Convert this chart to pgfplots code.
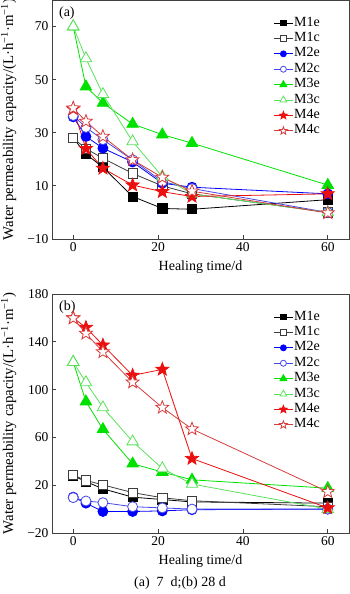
\documentclass[border=0pt]{standalone}
\usepackage{fontspec}
\setmainfont{Liberation Serif}
\usepackage{pgfplots}
\pgfplotsset{compat=1.18}
\definecolor{cA}{RGB}{0,0,0}
\definecolor{cAc}{RGB}{60,60,60}
\definecolor{cB}{RGB}{0,0,255}
\definecolor{cBc}{RGB}{70,70,235}
\definecolor{cC}{RGB}{0,225,0}
\definecolor{cCc}{RGB}{90,225,90}
\definecolor{cD}{RGB}{235,15,15}
\definecolor{cDc}{RGB}{215,60,60}
\pgfdeclareplotmark{pstar}{%
  \pgfpathmoveto{\pgfpointpolar{90}{\pgfplotmarksize}}%
  \pgfpathlineto{\pgfpointpolar{126}{0.42\pgfplotmarksize}}%
  \pgfpathlineto{\pgfpointpolar{162}{\pgfplotmarksize}}%
  \pgfpathlineto{\pgfpointpolar{198}{0.42\pgfplotmarksize}}%
  \pgfpathlineto{\pgfpointpolar{234}{\pgfplotmarksize}}%
  \pgfpathlineto{\pgfpointpolar{270}{0.42\pgfplotmarksize}}%
  \pgfpathlineto{\pgfpointpolar{306}{\pgfplotmarksize}}%
  \pgfpathlineto{\pgfpointpolar{342}{0.42\pgfplotmarksize}}%
  \pgfpathlineto{\pgfpointpolar{18}{\pgfplotmarksize}}%
  \pgfpathlineto{\pgfpointpolar{54}{0.42\pgfplotmarksize}}%
  \pgfpathclose
  \pgfusepathqfillstroke
}
\pgfplotsset{
  myaxis/.style={
    scale only axis, width=297pt, height=239pt,
    xmin=-5, xmax=65, xtick={0,20,40,60},
    axis line style={black!75, line width=0.8pt},
    tick pos=left, tick align=inside, major tick length=4pt,
    tick style={black!75, line width=0.8pt},
    ticklabel style={font=\fontsize{13.5}{15}\selectfont},
    /pgf/number format/assume math mode=true,
    xlabel={Healing time/d},
    ylabel={Water permeability capacity/(L·h\textsuperscript{−1}·m\textsuperscript{−1})},
    every axis y label/.style={at={(axis description cs:-0.146,0.5)},rotate=90,anchor=center,font=\fontsize{14.8}{15}\selectfont},
    every axis x label/.style={at={(axis description cs:0.5,0)},anchor=center,yshift=-28pt,font=\fontsize{14}{15}\selectfont},
    legend style={at={(0.735,0.945)}, anchor=north west, draw=none, fill=none,
      font=\fontsize{14}{15}\selectfont, row sep=0pt,
      nodes={inner sep=0.8pt, text height=10pt, text depth=3.8pt}},
    legend cell align=left,
    legend image code/.code={\draw[mark repeat=2,mark phase=2,every mark/.append style={scale=0.6}] plot coordinates {(0pt,0pt) (9.5pt,0pt) (19pt,0pt)};},
    every axis plot/.append style={line width=0.8pt},
  },
  s1e/.style={color=cA, mark=square*, mark size=4.6pt, mark options={fill=black, solid}},
  s1c/.style={color=cAc, mark=square*, mark size=4.6pt, mark options={fill=white, draw=cAc, solid}},
  s2e/.style={color=cB, mark=*, mark size=5pt, mark options={fill=cB, solid}},
  s2c/.style={color=cBc, mark=*, mark size=5pt, mark options={fill=white, draw=cBc, solid}},
  s3e/.style={color=cC, mark=triangle*, mark size=6.6pt, mark options={fill=cC, solid}},
  s3c/.style={color=cCc, mark=triangle*, mark size=6.6pt, mark options={fill=white, draw=cCc, solid}},
  s4e/.style={color=cD, mark=pstar, mark size=6.8pt, mark options={fill=cD, solid}},
  s4c/.style={color=cDc, mark=pstar, mark size=6.8pt, mark options={fill=white, draw=cDc, solid}},
}
\begin{document}
\begin{tikzpicture}
\useasboundingbox (-52pt,0pt) rectangle (298pt,-594pt);
\begin{axis}[myaxis, at={(0pt,0pt)}, anchor=north west,
  ymin=-10, ymax=80, ytick={-10,10,30,50,70}, yticklabels={−10,10,30,50,70}]
\addplot[s1e] coordinates {(0,28) (3,22) (7,17) (14,6) (21,1.5) (28,1.2) (60,4.8)};
\addplot[s1c] coordinates {(0,28) (3,24) (7,20.4) (14,14.7) (21,10) (28,7) (60,0)};
\addplot[s2e] coordinates {(0,36) (3,28.6) (7,24.2) (14,19) (21,11) (28,9.5) (60,7)};
\addplot[s2c] coordinates {(0,36.5) (3,32) (7,27.4) (14,19.8) (21,11.6) (28,9) (60,0)};
\addplot[s3e] coordinates {(0,70) (3,47.4) (7,41.2) (14,33.3) (21,29.3) (28,26.1) (60,10.3)};
\addplot[s3c] coordinates {(0,70) (3,58) (7,44.5) (14,26.7) (21,13.5) (28,7) (60,0)};
\addplot[s4e] coordinates {(0,39) (3,24) (7,16.6) (14,10.3) (21,7.8) (28,6) (60,7)};
\addplot[s4c] coordinates {(0,39.3) (3,34.3) (7,28.6) (14,19.8) (21,13.2) (28,8) (60,-0.2)};
\legend{M1e,M1c,M2e,M2c,M3e,M3c,M4e,M4c}
\node[anchor=west,font=\fontsize{14}{15}\selectfont] at (rel axis cs:0.012,0.946) {(a)};
\end{axis}
\begin{axis}[myaxis, at={(0pt,-294pt)}, anchor=north west,
  ymin=-20, ymax=180, ytick={-20,20,60,100,140,180}, yticklabels={−20,20,60,100,140,180}]
\addplot[s1e] coordinates {(0,28) (3,23) (7,17) (14,10) (21,8) (28,6) (60,5)};
\addplot[s1c] coordinates {(0,28.5) (3,24) (7,20.3) (14,13.8) (21,9.5) (28,7) (60,2)};
\addplot[s2e] coordinates {(0,10) (3,5) (7,-2) (14,-2) (21,-1.5) (28,-0.5) (60,0)};
\addplot[s2c] coordinates {(0,9.6) (3,6.8) (7,5.4) (14,2) (21,1) (28,0) (60,0)};
\addplot[s3e] coordinates {(0,123) (3,90) (7,66.8) (14,38) (21,31) (28,24.5) (60,17.5)};
\addplot[s3c] coordinates {(0,123) (3,106) (7,85) (14,56.5) (21,34) (28,21) (60,0)};
\addplot[s4e] coordinates {(0,160) (3,152) (7,137.2) (14,111.9) (21,116.9) (28,42.3) (60,1)};
\addplot[s4c] coordinates {(0,159.8) (3,147) (7,131.5) (14,106.2) (21,85) (28,67) (60,14.5)};
\legend{M1e,M1c,M2e,M2c,M3e,M3c,M4e,M4c}
\node[anchor=west,font=\fontsize{14}{15}\selectfont] at (rel axis cs:0.012,0.946) {(b)};
\end{axis}
\node[anchor=center,font=\fontsize{14}{15}\selectfont] at (128pt,-583pt) {(a)\ \ 7\ \ d;(b) 28 d};
\end{tikzpicture}
\end{document}
